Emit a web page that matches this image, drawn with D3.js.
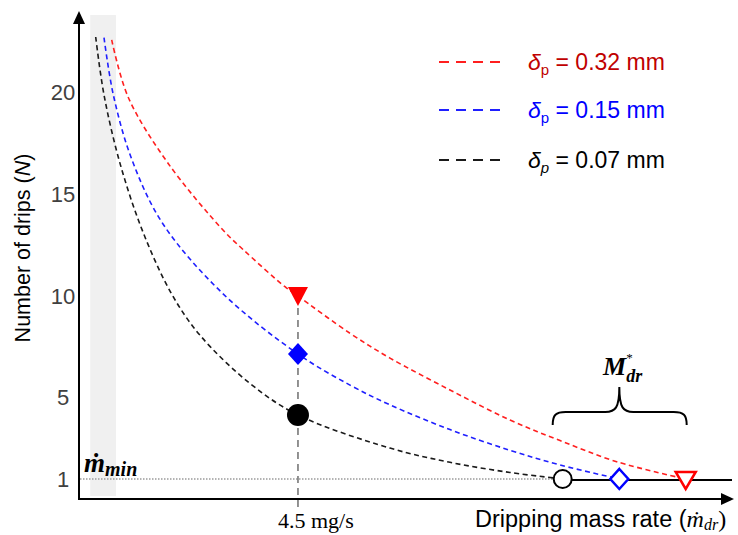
<!DOCTYPE html>
<html><head><meta charset="utf-8">
<script src="https://cdn.jsdelivr.net/npm/d3@7/dist/d3.min.js"></script>
<style>body{margin:0;background:#fff}</style>
</head><body><svg id="c" width="738" height="535"></svg>
<script>
// ---------- data ----------
const yTicks = [1, 5, 10, 15, 20];
const seriesNames = ["0.32", "0.15", "0.07"];
const seriesColors = ["#ff1f1f", "#1f1fff", "#1a1a1a"];
const legendTextColors = ["#c00000", "#0000ff", "#000000"];
const subItalic = [false, false, true];

const redRate   = [0.672, 1.007, 1.829, 2.959, 3.377, 4.233, 4.5, 5.569, 6.391, 7.624, 8.857, 9.885, 11.05, 12.468];
const redN      = [22.61, 19.81, 16.54, 13.25, 12.28, 10.46, 10.0, 8.17, 6.95, 5.38, 3.90, 2.89, 1.85, 1.0];
const blueRate  = [0.514, 0.705, 1.083, 1.726, 2.966, 4.5, 5.569, 6.391, 7.624, 8.857, 9.885, 11.104];
const blueN     = [22.72, 19.91, 16.74, 13.55, 10.1, 7.15, 5.62, 4.65, 3.43, 2.41, 1.69, 1.0];
const blackRate = [0.343, 0.514, 0.843, 1.315, 1.905, 2.488, 3.514, 4.5, 6.391, 7.624, 8.857, 9.94];
const blackN    = [22.75, 19.9, 16.53, 13.15, 10.1, 8.07, 5.7, 4.15, 2.52, 1.82, 1.32, 1.0];

const markedRate = 4.5;
const markedN = [10.0, 7.15, 4.15];
const endRate = [12.468, 11.104, 9.94];
const endN = [1, 1, 1];
const mMinBandRate = [0.23, 0.76];
const bandN = [0.16, 23.83];
const minN = 1;

// ---------- scales ----------
const svg = d3.select("#c");
const x = d3.scaleLinear().domain([0, 13.44]).range([79, 733]);
const y = d3.scaleLinear().domain([0, 24]).range([499.3, 11.6]);

const series = [
  {rate: redRate, n: redN},
  {rate: blueRate, n: blueN},
  {rate: blackRate, n: blackN}
];

// gray band (m_min region)
svg.append("rect")
  .attr("x", x(mMinBandRate[0])).attr("width", x(mMinBandRate[1]) - x(mMinBandRate[0]))
  .attr("y", y(bandN[1])).attr("height", y(bandN[0]) - y(bandN[1]))
  .attr("fill", "#f0f0f0");

// dotted line at N = 1
svg.append("line")
  .attr("x1", 80).attr("x2", x(endRate[2]) - 9)
  .attr("y1", y(minN)).attr("y2", y(minN))
  .attr("stroke", "#9a9a9a").attr("stroke-width", 1.5).attr("stroke-dasharray", "1.5,1.5");

// solid line from black marker to the right
svg.append("line")
  .attr("x1", x(endRate[2])).attr("x2", 732)
  .attr("y1", y(minN) + 1).attr("y2", y(minN) + 1)
  .attr("stroke", "#000").attr("stroke-width", 2);

// vertical dashed line at 4.5 mg/s
svg.append("line")
  .attr("x1", x(markedRate)).attr("x2", x(markedRate))
  .attr("y1", y(markedN[0])).attr("y2", y(-0.4))
  .attr("stroke", "#777").attr("stroke-width", 1.6).attr("stroke-dasharray", "7,5");

// curves
const line = d3.line().x(d => x(d[0])).y(d => y(d[1])).curve(d3.curveCatmullRom.alpha(0.5));
series.forEach((s, i) => {
  svg.append("path")
    .attr("d", line(s.rate.map((r, j) => [r, s.n[j]])))
    .attr("fill", "none").attr("stroke", seriesColors[i])
    .attr("stroke-width", 1.6).attr("stroke-dasharray", "5,3.5");
});

// axes
const yAxis = d3.axisLeft(y).tickValues(yTicks).tickSize(0).tickPadding(0);
const gy = svg.append("g").attr("transform", "translate(79,0)").call(yAxis);
gy.select(".domain").remove();
gy.selectAll("text")
  .attr("x", -16).attr("text-anchor", "middle")
  .attr("font-family", "Liberation Sans, Arial, sans-serif")
  .attr("font-size", 22).attr("fill", "#404040");

svg.append("line").attr("x1", 79).attr("x2", 79).attr("y1", 500).attr("y2", 22)
  .attr("stroke", "#000").attr("stroke-width", 2);
svg.append("path").attr("d", "M79,11 L85,24 L73,24 Z").attr("fill", "#000");
svg.append("line").attr("x1", 78).attr("x2", 724).attr("y1", 499).attr("y2", 499)
  .attr("stroke", "#000").attr("stroke-width", 2);
svg.append("path").attr("d", "M734,499 L721,493 L721,505 Z").attr("fill", "#000");

// filled markers at 4.5 mg/s
const mx = x(markedRate);
let cy = y(markedN[0]);
svg.append("path").attr("d", `M${mx-10},${cy-9} L${mx+10},${cy-9} L${mx},${cy+10} Z`).attr("fill", "#ff0000");
cy = y(markedN[1]);
svg.append("path").attr("d", `M${mx},${cy-11} L${mx+10},${cy} L${mx},${cy+11} L${mx-10},${cy} Z`).attr("fill", "#0000ff");
cy = y(markedN[2]);
svg.append("circle").attr("cx", mx).attr("cy", cy).attr("r", 11).attr("fill", "#000");

// hollow end markers
let ex = x(endRate[0]), ey = y(endN[0]);
svg.append("path").attr("d", `M${ex-10},${ey-7} L${ex+10},${ey-7} L${ex},${ey+10} Z`)
  .attr("fill", "#fff").attr("stroke", "#ff0000").attr("stroke-width", 2.5).attr("stroke-linejoin", "miter");
ex = x(endRate[1]); ey = y(endN[1]);
svg.append("path").attr("d", `M${ex},${ey-10} L${ex+9},${ey} L${ex},${ey+10} L${ex-9},${ey} Z`)
  .attr("fill", "#fff").attr("stroke", "#0000ff").attr("stroke-width", 2.5);
ex = x(endRate[2]); ey = y(endN[2]);
svg.append("circle").attr("cx", ex).attr("cy", ey).attr("r", 9)
  .attr("fill", "#fff").attr("stroke", "#000").attr("stroke-width", 2);

// brace over M*_dr
const bl = x(endRate[2]) - 10, br = x(endRate[0]) + 1, bc = x(endRate[1]);
const bTop = 387, bMid = 412, bEnd = 425;
svg.append("path")
  .attr("d", `M${bl},${bEnd} C${bl},${bMid+3} ${bl+3},${bMid} ${bl+13},${bMid} L${bc-14},${bMid} C${bc-4},${bMid} ${bc},${bMid-4} ${bc},${bTop} C${bc},${bMid-4} ${bc+4},${bMid} ${bc+14},${bMid} L${br-13},${bMid} C${br-3},${bMid} ${br},${bMid+3} ${br},${bEnd}`)
  .attr("fill", "none").attr("stroke", "#000").attr("stroke-width", 2);

const serif = "Liberation Serif, DejaVu Serif, serif";
const mLab = svg.append("text").attr("x", 603).attr("y", 375).attr("font-family", serif);
mLab.append("tspan").attr("font-weight", "bold").attr("font-style", "italic").attr("font-size", 26).text("M");
mLab.append("tspan").attr("font-size", 13).attr("dy", -13).text("*");
mLab.append("tspan").attr("font-weight", "bold").attr("font-style", "italic").attr("font-size", 18)
  .attr("dx", -6.5).attr("dy", 20).text("dr");

// m_min label
const mm = svg.append("text").attr("x", 84).attr("y", 472).attr("font-family", serif)
  .attr("font-weight", "bold").attr("font-style", "italic");
mm.append("tspan").attr("font-size", 27).text("ṁ");
mm.append("tspan").attr("font-size", 20).attr("dy", 4).text("min");

// 4.5 mg/s label
svg.append("text").attr("x", x(markedRate) - 20).attr("y", 528).attr("font-family", serif)
  .attr("font-size", 22).text(markedRate + " mg/s");

// x-axis label
const xl = svg.append("text").attr("x", 475).attr("y", 527)
  .attr("font-family", "Liberation Sans, Arial, sans-serif").attr("font-size", 23.5);
xl.append("tspan").text("Dripping mass rate (");
xl.append("tspan").attr("font-family", serif).attr("font-style", "italic").attr("font-size", 24).text("ṁ");
xl.append("tspan").attr("font-family", serif).attr("font-style", "italic").attr("font-size", 16).attr("dy", 3).text("dr");
xl.append("tspan").attr("font-family", serif).attr("font-size", 24).attr("dy", -3).text(")");

// y-axis label
const yl = svg.append("text").attr("transform", "translate(30,248) rotate(-90)")
  .attr("text-anchor", "middle")
  .attr("font-family", "Liberation Sans, Arial, sans-serif").attr("font-size", 21.5);
yl.append("tspan").text("Number of drips (");
yl.append("tspan").attr("font-style", "italic").text("N");
yl.append("tspan").text(")");

// legend
const legendY = [62, 110, 160];
seriesNames.forEach((nm, i) => {
  svg.append("line").attr("x1", 439).attr("x2", 500).attr("y1", legendY[i]).attr("y2", legendY[i])
    .attr("stroke", seriesColors[i]).attr("stroke-width", 2).attr("stroke-dasharray", "10,7");
  const t = svg.append("text").attr("x", 528).attr("y", legendY[i] + 8)
    .attr("font-family", "Liberation Sans, Arial, sans-serif").attr("font-size", 23)
    .attr("fill", legendTextColors[i]);
  t.append("tspan").attr("font-style", "italic").text("δ");
  t.append("tspan").attr("font-size", 15).attr("dy", 5)
    .attr("font-style", subItalic[i] ? "italic" : "normal").text("p");
  t.append("tspan").attr("dy", -5).text(" = " + nm + " mm");
});
</script></body></html>
